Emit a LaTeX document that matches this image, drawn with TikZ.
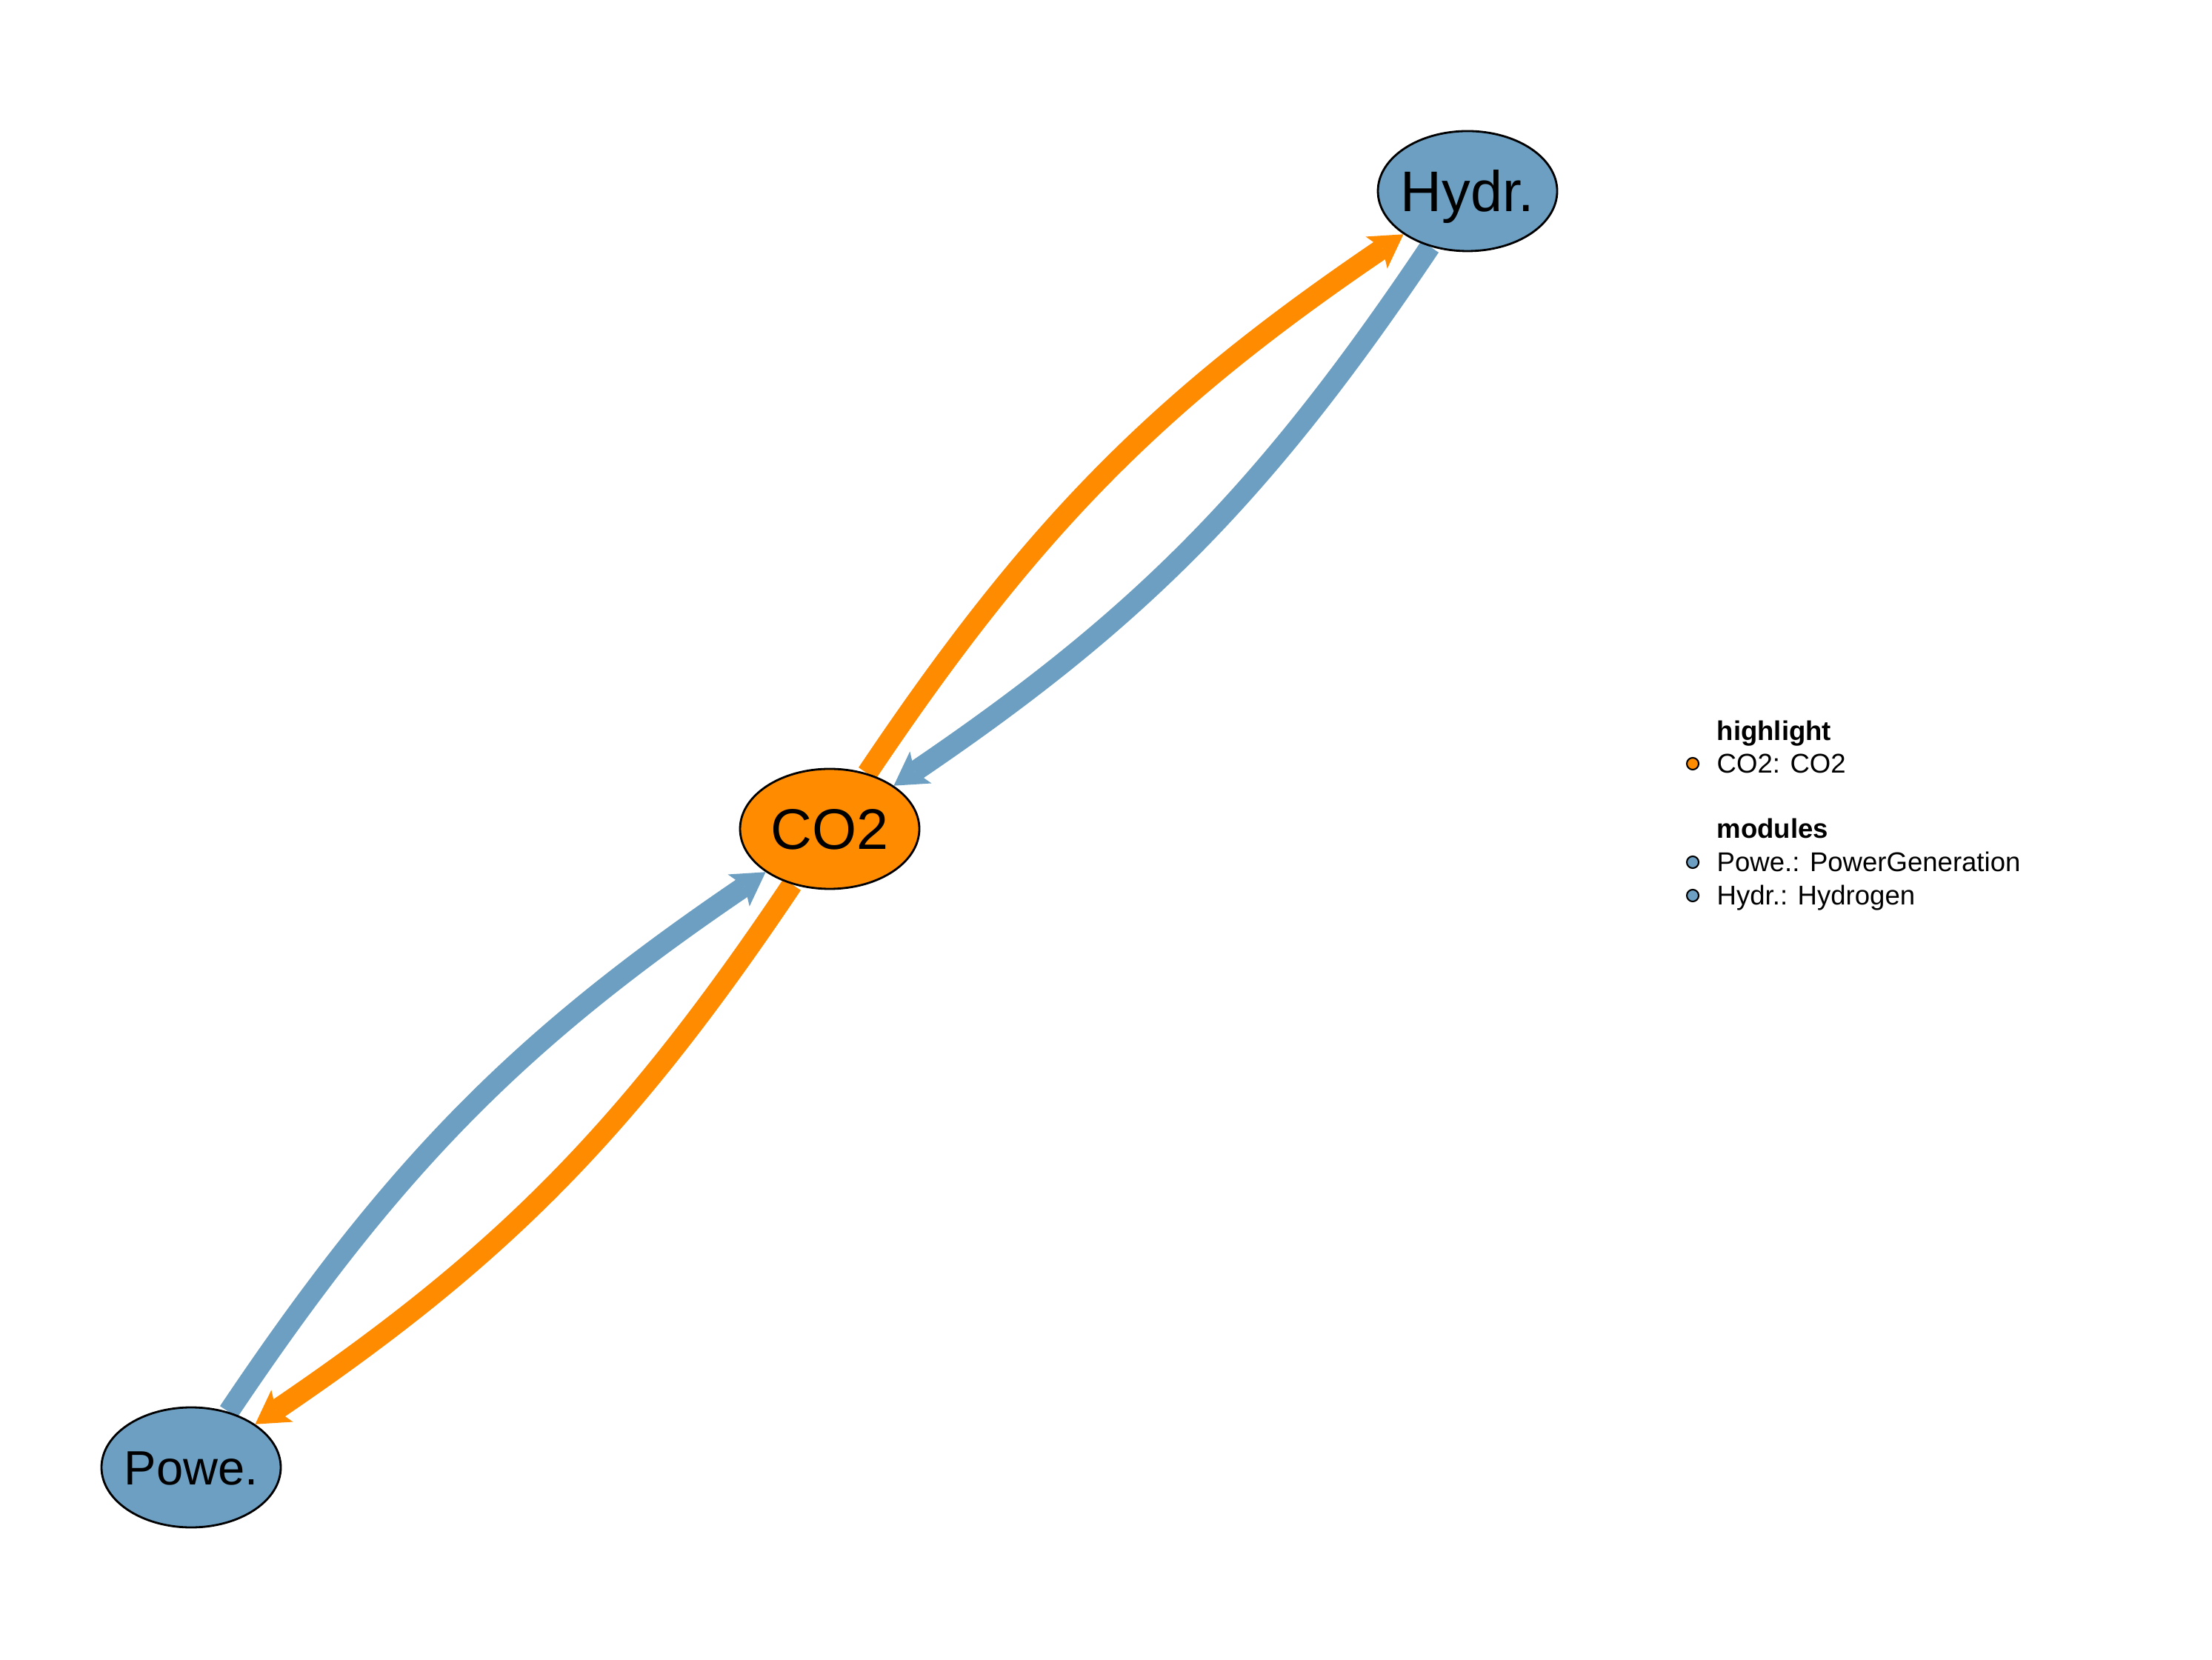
\documentclass[tikz,border=0pt]{standalone}
\usepackage{fontspec}
\setmainfont{Liberation Sans}
\usetikzlibrary{shapes.geometric,arrows.meta}
\definecolor{nodeorange}{HTML}{FF8C00}
\definecolor{nodeblue}{HTML}{6C9FC1}
\pgfdeclarelayer{bglayer}
\pgfdeclarelayer{edgelayer}
\pgfsetlayers{bglayer,edgelayer,main}
\begin{document}
\begin{tikzpicture}[
  vnode/.style={ellipse, draw=black, line width=0.8pt, inner sep=0pt,
    minimum width=2.42cm, minimum height=1.62cm, text depth=0pt},
  bignode/.style={vnode, font=\fontsize{22}{26}\selectfont, text height=15.8pt},
  smallnode/.style={vnode, font=\fontsize{18.5}{22}\selectfont, text height=13.3pt},
  edgebase/.style={line width=0.28cm,
    -{Stealth[length=0.44cm,width=0.52cm,inset=0.1cm,line width=0pt]}},
  edgeo/.style={edgebase, draw=nodeorange},
  edgeb/.style={edgebase, draw=nodeblue},
  legtitle/.style={anchor=base west, inner sep=0pt, font=\fontsize{10.4}{12}\selectfont\bfseries},
  legitem/.style={anchor=base west, inner sep=0pt, font=\fontsize{10.4}{12}\selectfont},
  legdot/.style={circle, draw=black, line width=0.6pt, inner sep=0pt, minimum size=0.16cm}
]
\useasboundingbox (0,0) rectangle (29.86,22.40);
\begin{pgfonlayer}{bglayer}
\fill[white] (0,0) rectangle (29.86,22.40);
\end{pgfonlayer}

\node[bignode, fill=nodeorange] (co2) at (11.20,11.21) {\makebox[0pt]{CO2}};
\node[bignode, fill=nodeblue] (hydr) at (19.81,19.82) {\makebox[0pt]{Hydr.}};
\node[smallnode, fill=nodeblue] (powe) at (2.58,2.59) {\makebox[0pt]{Powe.}};

\begin{pgfonlayer}{edgelayer}
\draw[edgeo] (co2) to[bend left=11] (hydr);
\draw[edgeb] (hydr) to[bend left=11] (co2);
\draw[edgeb] (powe) to[bend left=11] (co2);
\draw[edgeo] (co2) to[bend left=11] (powe);
\end{pgfonlayer}

\node[legtitle] (lt1) at (23.17,12.40) {highlight};
\node[legdot, fill=nodeorange] (ld1) at (22.85,12.09) {};
\node[legitem] (li1) at (23.17,11.96) {CO2: CO2};
\node[legtitle] (lt2) at (23.17,11.08) {modules};
\node[legdot, fill=nodeblue] (ld2) at (22.85,10.76) {};
\node[legitem] (li2) at (23.17,10.63) {Powe.: PowerGeneration};
\node[legdot, fill=nodeblue] (ld3) at (22.85,10.31) {};
\node[legitem] (li3) at (23.17,10.18) {Hydr.: Hydrogen};
\end{tikzpicture}
\end{document}
